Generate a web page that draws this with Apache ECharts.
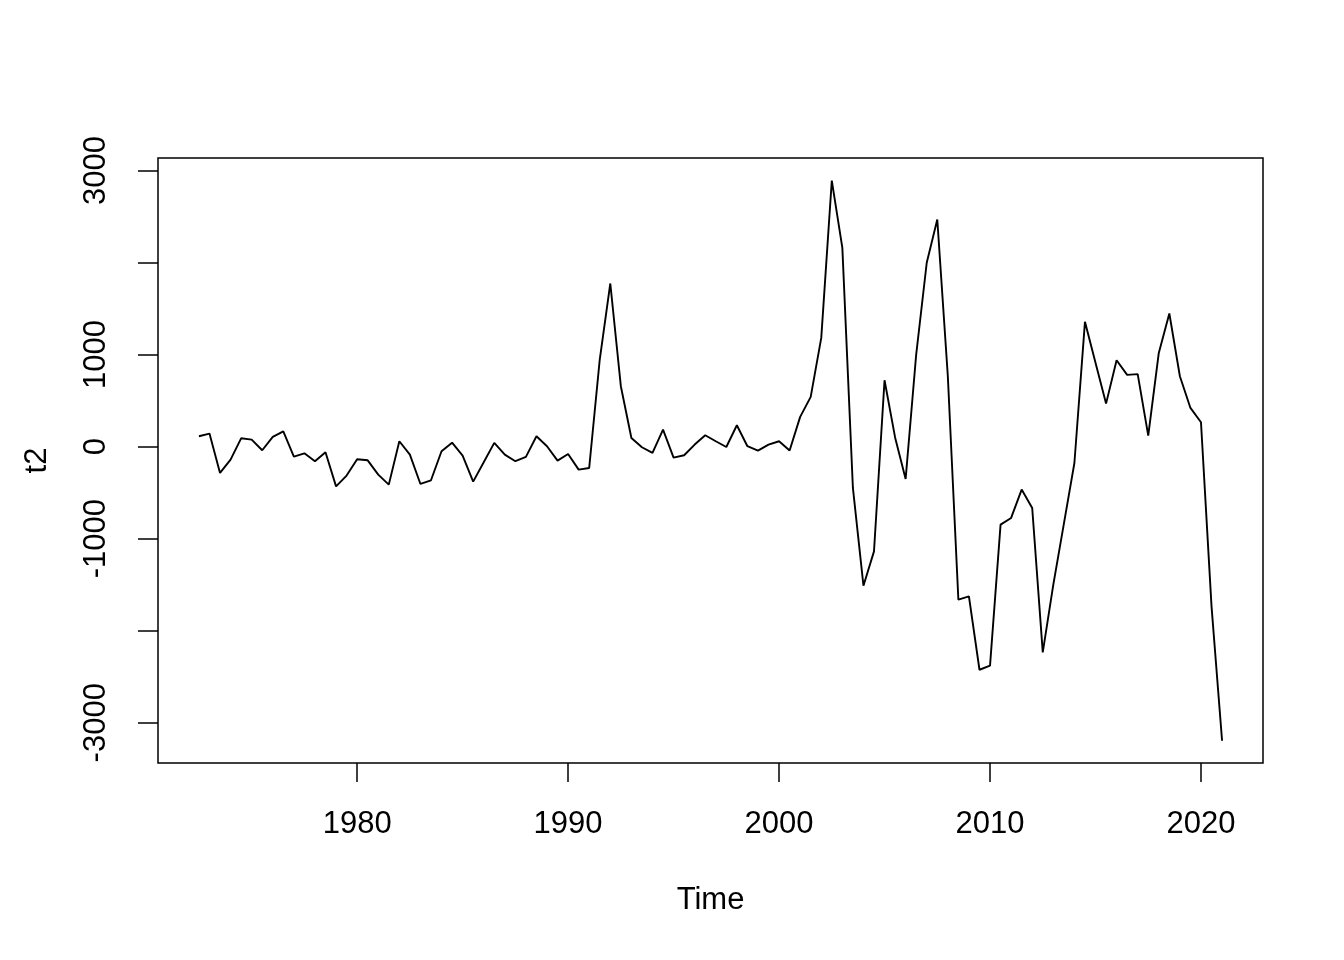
<!DOCTYPE html>
<html>
<head>
<meta charset="utf-8">
<script src="https://cdn.jsdelivr.net/npm/echarts@6/dist/echarts.min.js"></script>
<style>
html,body{margin:0;padding:0;background:#fff;}
#chart{width:1344px;height:960px;}
</style>
</head>
<body>
<div id="chart"></div>
<script>
// Time index (semi-annual series, 1972.5 .. 2021.0)
const years = [
  1972.5,1973.0,1973.5,1974.0,1974.5,1975.0,1975.5,1976.0,1976.5,1977.0,
  1977.5,1978.0,1978.5,1979.0,1979.5,1980.0,1980.5,1981.0,1981.5,1982.0,
  1982.5,1983.0,1983.5,1984.0,1984.5,1985.0,1985.5,1986.0,1986.5,1987.0,
  1987.5,1988.0,1988.5,1989.0,1989.5,1990.0,1990.5,1991.0,1991.5,1992.0,
  1992.5,1993.0,1993.5,1994.0,1994.5,1995.0,1995.5,1996.0,1996.5,1997.0,
  1997.5,1998.0,1998.5,1999.0,1999.5,2000.0,2000.5,2001.0,2001.5,2002.0,
  2002.5,2003.0,2003.5,2004.0,2004.5,2005.0,2005.5,2006.0,2006.5,2007.0,
  2007.5,2008.0,2008.5,2009.0,2009.5,2010.0,2010.5,2011.0,2011.5,2012.0,
  2012.5,2013.0,2013.5,2014.0,2014.5,2015.0,2015.5,2016.0,2016.5,2017.0,
  2017.5,2018.0,2018.5,2019.0,2019.5,2020.0,2020.5,2021.0
];
// Series t2
const t2 = [
  112,141,-286,-141,90,76,-40,105,166,-109,
  -73,-160,-62,-432,-315,-138,-149,-304,-413,58,
  -87,-406,-366,-51,43,-98,-380,-170,40,-87,
  -159,-112,112,4,-152,-80,-250,-232,946,1772,
  656,94,-7,-69,185,-120,-94,22,123,58,
  -4,232,4,-43,22,58,-43,323,540,1181,
  2890,2159,-449,-1511,-1138,721,100,-351,1000,1997,
  2467,764,-1663,-1627,-2424,-2380,-848,-775,-467,-667,
  -2236,-1500,-840,-178,1355,910,467,938,779,787,
  120,1018,1446,764,420,264,-1736,-3195
];
// Axis ticks and labels
const xTicks = [1980,1990,2000,2010,2020];
const yTicks = [-3000,-2000,-1000,0,1000,2000,3000];
const yLabels = [-3000,-1000,0,1000,3000];

const points = years.map((y,i)=>[y,t2[i]]);
const FONT = 'Liberation Sans';
const chart = echarts.init(document.getElementById('chart'), null, {renderer:'canvas'});
chart.setOption({
  backgroundColor:'#ffffff',
  animation:false,
  grid:{left:158,right:81,top:158,bottom:197,show:true,borderColor:'#000',borderWidth:1.5,backgroundColor:'transparent'},
  xAxis:{
    type:'value',min:1970.56,max:2022.94,
    name:'Time',nameLocation:'middle',nameGap:122,
    nameTextStyle:{fontFamily:FONT,fontSize:31,color:'#000'},
    axisLine:{show:false,onZero:false},
    splitLine:{show:false},
    axisTick:{show:true,length:19,lineStyle:{color:'#000',width:1.5},customValues:xTicks},
    axisLabel:{fontFamily:FONT,fontSize:31,color:'#000',margin:46,customValues:xTicks,formatter:v=>String(v)}
  },
  yAxis:{
    type:'value',min:-3437,max:3135,
    name:'t2',nameLocation:'middle',nameGap:105,nameRotate:90,
    nameTextStyle:{fontFamily:FONT,fontSize:31,color:'#000'},
    axisLine:{show:false,onZero:false},
    splitLine:{show:false},
    axisTick:{show:true,length:20,lineStyle:{color:'#000',width:1.5},customValues:yTicks},
    axisLabel:{fontFamily:FONT,fontSize:31,color:'#000',margin:46,rotate:90,customValues:yLabels,formatter:v=>String(v)}
  },
  series:[{
    type:'line',data:points,showSymbol:false,symbol:'none',
    lineStyle:{color:'#000',width:1.9},
    clip:false
  }]
});
</script>
</body>
</html>
